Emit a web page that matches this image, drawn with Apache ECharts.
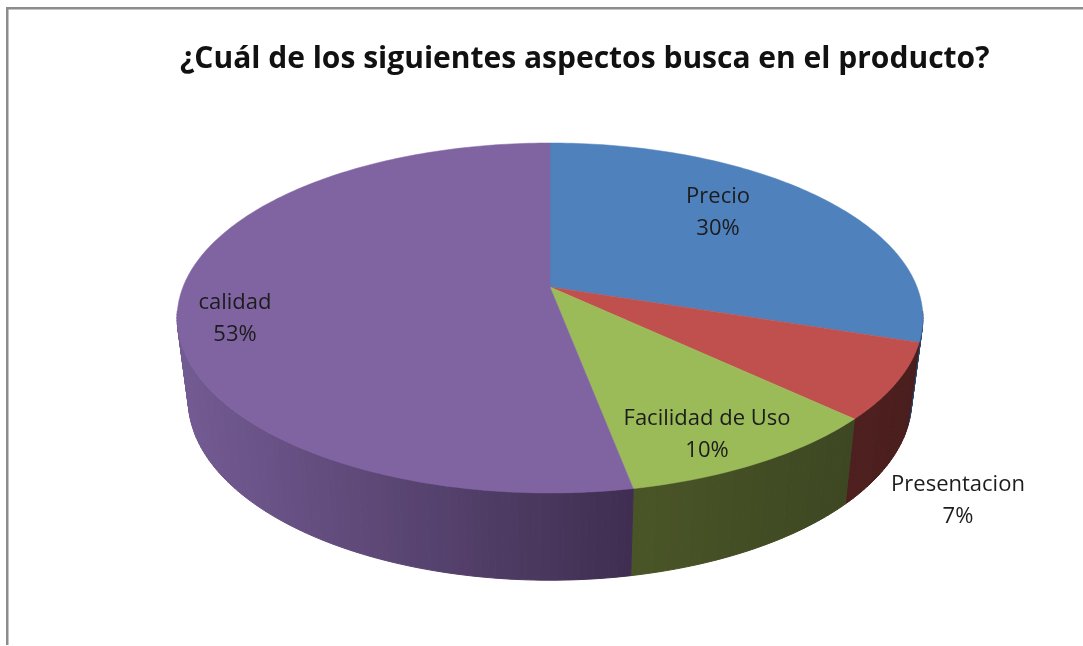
<!DOCTYPE html>
<html><head><meta charset="utf-8">
<style>html,body{margin:0;padding:0;background:#fff}#c{width:1083px;height:646px}</style>
<script src="https://cdn.jsdelivr.net/npm/echarts@6/dist/echarts.min.js"></script>
</head><body><div id="c"></div>
<script>
const chartTitle = '¿Cuál de los siguientes aspectos busca en el producto?';
const categories = ['Precio', 'Presentacion', 'Facilidad de Uso', 'calidad'];
const values = [30, 7, 10, 53];
const topColors = ['#4F81BD', '#C0504D', '#9BBB59', '#8064A2'];
const sideStops = [[[42,69,102],[42,69,102]], [[78,31,31],[74,30,30]], [[74,85,39],[61,71,34]], [[115,91,147],[63,46,80]]];
const labelCenters = [[718,213], [958,501], [707,435], [235,319]];

// Projection of the tilted disc
const apexX = 550, apexY = 287, kx = 367, ky = 169.5, persp = -0.177;
const ellipseCy = 318, sideCy = 400, sideSx = 0.97, sideSy = 1.03;
const total = values.reduce((a, b) => a + b, 0);
const fonts = '"Open Sans", "Noto Sans", sans-serif';

function topPoint(frac) {
  const a = frac * 2 * Math.PI, u = Math.sin(a), v = -Math.cos(a), d = 1 + persp * v;
  return [apexX + kx * u / d, apexY + ky * v / d];
}
function lowPoint(p) {
  return [apexX + (p[0] - apexX) * sideSx, sideCy + (p[1] - ellipseCy) * sideSy];
}
function arc(f0, f1) {
  const n = Math.max(4, Math.ceil((f1 - f0) * 360)), pts = [];
  for (let i = 0; i <= n; i++) pts.push(topPoint(f0 + (f1 - f0) * i / n));
  return pts;
}
function range(i) {
  let s = 0;
  for (let j = 0; j < i; j++) s += values[j];
  return [s / total, (s + values[i]) / total];
}
const seriesData = categories.map((name, i) => ({ name, value: [values[i]] }));

function renderSide(params) {
  const i = params.dataIndex, r = range(i), top = arc(r[0], r[1]);
  const xs = top.map(p => p[0]), x0 = Math.min(...xs), x1 = Math.max(...xs);
  const children = [];
  for (let k = 0; k < top.length - 1; k++) {
    const a = top[k], b = top[k + 1];
    if (Math.min(a[1], b[1]) < ellipseCy - 8) continue; // back of the rim stays hidden
    const t = ((a[0] + b[0]) / 2 - x0) / (x1 - x0 || 1);
    const c = sideStops[i][0].map((v, j) => Math.round(v + (sideStops[i][1][j] - v) * t));
    const fill = 'rgb(' + c.join(',') + ')';
    children.push({ type: 'polygon', shape: { points: [a, b, lowPoint(b), lowPoint(a)] },
      style: { fill, stroke: fill, lineWidth: 1 } });
  }
  return { type: 'group', children };
}
function renderTop(params) {
  const i = params.dataIndex, r = range(i);
  return { type: 'polygon', shape: { points: [[apexX, apexY]].concat(arc(r[0], r[1])) },
    style: { fill: topColors[i], stroke: topColors[i], lineWidth: 0.5 } };
}
function renderLabel(params) {
  const i = params.dataIndex, c = labelCenters[i];
  return { type: 'text', x: c[0], y: c[1], silent: true, style: {
    text: categories[i] + '\n' + Math.round(values[i] / total * 100) + '%',
    fill: '#1c1c1c', font: '22px ' + fonts, align: 'center', verticalAlign: 'middle', lineHeight: 32 } };
}
const chart = echarts.init(document.getElementById('c'), null, { renderer: 'canvas' });
chart.setOption({
  animation: false,
  backgroundColor: '#ffffff',
  title: { text: chartTitle, left: 175, top: 39,
    textStyle: { color: '#111', fontFamily: fonts, fontWeight: 'bold', fontSize: 30 } },
  tooltip: { show: false },
  graphic: [
    { type: 'rect', shape: { x: 6, y: 7, width: 1077, height: 2.5 }, style: { fill: '#8c8c8c' } },
    { type: 'rect', shape: { x: 6, y: 7, width: 2.5, height: 638 }, style: { fill: '#8c8c8c' } }
  ],
  series: [
    { type: 'custom', coordinateSystem: 'none', z: 1, silent: true, data: seriesData, renderItem: renderSide },
    { type: 'custom', coordinateSystem: 'none', z: 2, silent: true, data: seriesData, renderItem: renderTop },
    { type: 'custom', coordinateSystem: 'none', z: 3, silent: true, data: seriesData, renderItem: renderLabel }
  ]
});
</script></body></html>
